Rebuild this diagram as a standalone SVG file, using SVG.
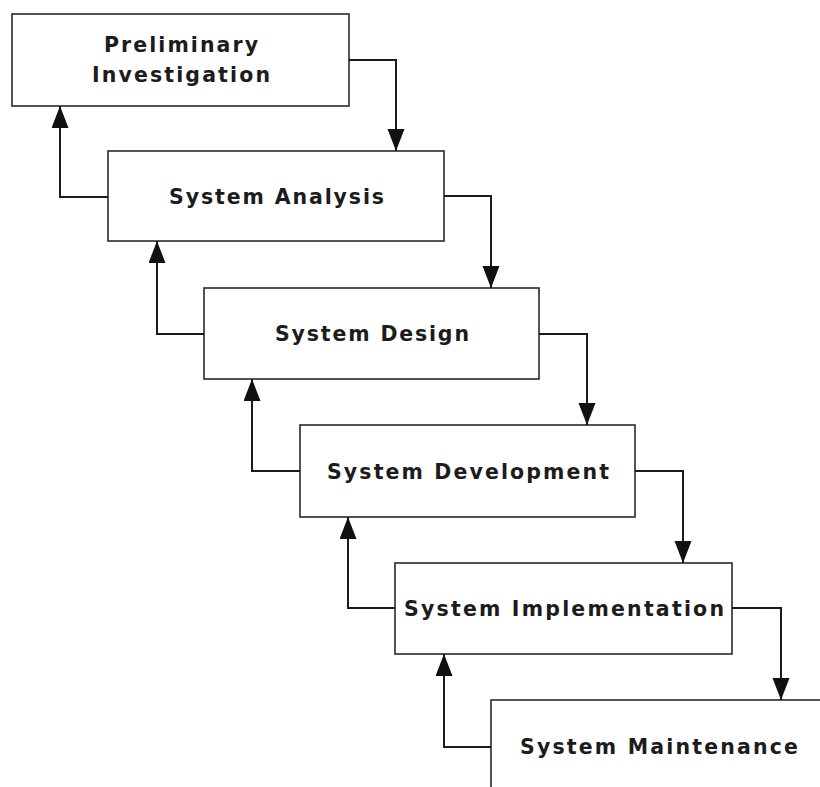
<svg xmlns="http://www.w3.org/2000/svg" width="820" height="787" viewBox="0 0 820 787">
<style>
.box{fill:#fff;stroke:#2a2a2a;stroke-width:1.6}
.lbl{font-family:"DejaVu Sans","Verdana",sans-serif;font-weight:bold;font-size:20.5px;fill:#1c1c1c}
.con{fill:none;stroke:#1c1c1c;stroke-width:2}
</style>
<defs>
<marker id="ah" markerUnits="userSpaceOnUse" markerWidth="24" markerHeight="18" refX="22" refY="8.5" orient="auto">
<path d="M0,0 L22,8.5 L0,17 Z" fill="#111"/>
</marker>
</defs>
<rect width="820" height="787" fill="#fff"/>
<g id="n1">
<rect class="box" x="12" y="14" width="337" height="92"/>
<text class="lbl" x="104" y="52" textLength="154" lengthAdjust="spacing">Preliminary</text>
<text class="lbl" x="92" y="82" textLength="178" lengthAdjust="spacing">Investigation</text>
</g>
<g id="n2">
<rect class="box" x="108" y="151" width="336" height="90"/>
<text class="lbl" x="169" y="204" textLength="215" lengthAdjust="spacing">System Analysis</text>
</g>
<g id="n3">
<rect class="box" x="204" y="288" width="335" height="91"/>
<text class="lbl" x="275" y="341" textLength="194" lengthAdjust="spacing">System Design</text>
</g>
<g id="n4">
<rect class="box" x="300" y="425" width="335" height="92"/>
<text class="lbl" x="327" y="479" textLength="282" lengthAdjust="spacing">System Development</text>
</g>
<g id="n5">
<rect class="box" x="395" y="563" width="337" height="91"/>
<text class="lbl" x="404" y="616" textLength="320" lengthAdjust="spacing">System Implementation</text>
</g>
<g id="n6">
<rect class="box" x="491" y="700" width="360" height="120"/>
<text class="lbl" x="520" y="754" textLength="278" lengthAdjust="spacing">System Maintenance</text>
</g>
<g id="connectors">
<path class="con" d="M349,60 H396 V151" marker-end="url(#ah)"/>
<path class="con" d="M444,196 H491 V288" marker-end="url(#ah)"/>
<path class="con" d="M539,334 H587 V425" marker-end="url(#ah)"/>
<path class="con" d="M635,471 H683 V563" marker-end="url(#ah)"/>
<path class="con" d="M732,608 H781 V700" marker-end="url(#ah)"/>
<path class="con" d="M108,197 H60 V106" marker-end="url(#ah)"/>
<path class="con" d="M204,334 H157 V241" marker-end="url(#ah)"/>
<path class="con" d="M300,471 H252 V379" marker-end="url(#ah)"/>
<path class="con" d="M395,608 H348 V517" marker-end="url(#ah)"/>
<path class="con" d="M491,747 H444 V654" marker-end="url(#ah)"/>
</g>
</svg>
